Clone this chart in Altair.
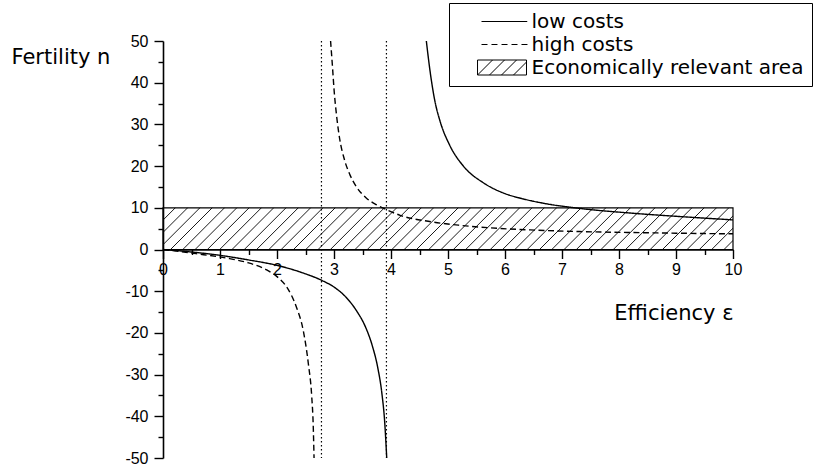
import altair as alt
import pandas as pd

# Fertility n as a function of efficiency ε, read branch by branch
low_lower_eps = [0.0, 0.5, 1.0, 1.5, 2.0, 2.45, 2.8, 3.0, 3.2, 3.4, 3.55, 3.67, 3.77, 3.84, 3.89, 3.925]
low_lower_n = [0.0, -0.6, -1.4, -2.5, -3.8, -5.6, -7.5, -9.0, -11.3, -14.8, -18.5, -23.0, -28.5, -34.5, -41.5, -50.0]

low_upper_eps = [4.62, 4.68, 4.77, 4.86, 5.03, 5.27, 5.62, 6.0, 6.3, 6.67, 7.25, 8.19, 9.07, 10.0]
low_upper_n = [50.0, 43.3, 35.6, 30.8, 25.0, 20.0, 16.0, 13.4, 12.2, 11.1, 9.95, 8.75, 7.9, 7.1]

high_lower_eps = [0.0, 0.58, 1.17, 1.5, 1.82, 2.0, 2.17, 2.34, 2.46, 2.55, 2.61, 2.635, 2.65]
high_lower_n = [0.0, -1.0, -2.2, -3.2, -4.9, -6.5, -9.0, -13.8, -19.4, -27.4, -35.4, -42.0, -50.0]

high_upper_eps = [2.94, 2.976, 3.0, 3.046, 3.10, 3.18, 3.28, 3.40, 3.57, 3.75, 3.89, 4.16, 4.68, 5.21, 5.73, 6.44, 7.31, 8.19, 9.07, 10.0]
high_upper_n = [50.0, 43.3, 38.5, 32.0, 26.5, 21.7, 17.9, 14.9, 12.3, 10.7, 9.75, 8.2, 6.7, 5.8, 5.2, 4.7, 4.3, 4.08, 3.9, 3.76]

# vertical reference lines (ε)
reference_eps = [2.78, 3.92]

# economically relevant area
area_eps = [0.0, 10.0]
area_n = [0.0, 10.0]

# axis ticks
x_major = list(range(0, 11))
x_minor = [i + 0.5 for i in range(10)]
y_major = list(range(-50, 51, 10))
y_minor = list(range(-45, 50, 10))

series_names = ["low costs", "high costs", "Economically relevant area"]

W, H = 570, 417
X_DOMAIN = [0, 10]
Y_DOMAIN = [-50, 50]

LABEL_FONT = "Liberation Sans"
TEXT_FONT = "DejaVu Sans"


def branch(eps, n, series, part):
    return pd.DataFrame({"eps": eps, "n": n, "series": series, "branch": f"{series} {part}"})


curves = pd.concat([
    branch(low_lower_eps, low_lower_n, "low costs", "lower"),
    branch(low_upper_eps, low_upper_n, "low costs", "upper"),
    branch(high_lower_eps, high_lower_n, "high costs", "lower"),
    branch(high_upper_eps, high_upper_n, "high costs", "upper"),
], ignore_index=True)

area = pd.DataFrame({"e0": [area_eps[0]], "e1": [area_eps[1]],
                     "n0": [area_n[0]], "n1": [area_n[1]]})

# 45° hatching for the area, spaced in pixels and converted to data units
hatch_gap_px = 12.3
px_per_x = W / (X_DOMAIN[1] - X_DOMAIN[0])
px_per_y = H / (Y_DOMAIN[1] - Y_DOMAIN[0])
rise = area_n[1] - area_n[0]
run = rise * px_per_y / px_per_x
gap = hatch_gap_px / px_per_x
starts = []
s = area_eps[0] - run
while s < area_eps[1]:
    starts.append(s)
    s += gap
hatch = pd.DataFrame({"x0": starts, "x1": [v + run for v in starts],
                      "y0": area_n[0], "y1": area_n[1]})

refs = pd.DataFrame({"eps": reference_eps})
legend_rows = pd.DataFrame({"series": series_names, "eps": 0.0, "n": 0.0})

x_scale = alt.Scale(domain=X_DOMAIN, nice=False, zero=False)
y_scale = alt.Scale(domain=Y_DOMAIN, nice=False, zero=False)

x_axis = alt.Axis(
    values=x_major, labelExpr="toString(datum.value)",
    orient="bottom", offset=-(H / 2), grid=False,
    domainColor="black", domainWidth=1.6,
    tickColor="black", tickWidth=1.4, tickSize=9,
    labelFont=LABEL_FONT, labelFontSize=16, labelColor="black", labelPadding=3,
    labelFlush=False, labelOverlap=False,
    title="Efficiency ε", titleFont=TEXT_FONT, titleFontSize=21, titleFontWeight="normal",
    titleColor="black", titleX=W, titleY=70, titleAlign="right", titleBaseline="alphabetic",
)
y_axis = alt.Axis(
    values=y_major, labelExpr="toString(datum.value)",
    orient="left", grid=False,
    domainColor="black", domainWidth=1.6,
    tickColor="black", tickWidth=1.4, tickSize=9,
    labelFont=LABEL_FONT, labelFontSize=16, labelColor="black", labelPadding=6,
    labelFlush=False, labelOverlap=False,
    title="Fertility n", titleFont=TEXT_FONT, titleFontSize=21, titleFontWeight="normal",
    titleColor="black", titleAngle=0, titleX=-152, titleY=22, titleAlign="left",
    titleBaseline="alphabetic",
)
x_minor_axis = alt.Axis(
    values=x_minor, labels=False, domain=False, grid=False, title=None,
    orient="bottom", offset=-(H / 2), tickColor="black", tickWidth=1.4, tickSize=5,
)
y_minor_axis = alt.Axis(
    values=y_minor, labels=False, domain=False, grid=False, title=None,
    orient="left", tickColor="black", tickWidth=1.4, tickSize=5,
)

hatch_layer = alt.Chart(hatch).mark_rule(color="black", strokeWidth=0.9, clip=True).encode(
    x=alt.X("x0:Q", scale=x_scale, axis=x_axis),
    x2="x1:Q",
    y=alt.Y("y0:Q", scale=y_scale, axis=y_axis),
    y2="y1:Q",
)

area_layer = alt.Chart(area).mark_rect(fill="white", fillOpacity=0, stroke="black", strokeWidth=1.2).encode(
    x=alt.X("e0:Q", scale=x_scale, axis=x_minor_axis), x2="e1:Q",
    y=alt.Y("n0:Q", scale=y_scale, axis=y_minor_axis), y2="n1:Q",
)

ref_layer = alt.Chart(refs).mark_rule(color="black", strokeWidth=1.2, strokeDash=[1.5, 2.5]).encode(
    x=alt.X("eps:Q", scale=x_scale, axis=None),
)

curve_layer = alt.Chart(curves).mark_line(color="black", strokeWidth=1.4, clip=True,
                                          interpolate="monotone").encode(
    x=alt.X("eps:Q", scale=x_scale, axis=None),
    y=alt.Y("n:Q", scale=y_scale, axis=None),
    strokeDash=alt.StrokeDash("series:N", scale=alt.Scale(domain=["low costs", "high costs"],
                                                          range=[[1, 0], [6, 3.5]]), legend=None),
    detail="branch:N",
    order="eps:Q",
)

legend_paths = [
    "M-2.8,0H3.3",
    "M-2.8,0H-2M-1.47,0H-0.67M-0.13,0H0.67M1.2,0H2M2.53,0H3.33",
    "M-3.33,-1H3.2V1H-3.33Z M-3.33,1L-1.33,-1 M-1.73,1L0.27,-1 M-0.13,1L1.87,-1 M1.47,1L3.2,-0.73",
]

legend_layer = alt.Chart(legend_rows).mark_point(opacity=0, filled=False, color="black", size=225).encode(
    x=alt.X("eps:Q", scale=x_scale, axis=None),
    y=alt.Y("n:Q", scale=y_scale, axis=None),
    shape=alt.Shape(
        "series:N",
        scale=alt.Scale(domain=series_names, range=legend_paths),
        legend=alt.Legend(
            title=None, orient="none", legendX=286, legendY=-38, direction="vertical",
            padding=8.5, strokeColor="black", fillColor="white", cornerRadius=0,
            symbolSize=225, symbolStrokeWidth=1, symbolStrokeColor="black",
            symbolFillColor="transparent", symbolOpacity=1,
            symbolOffset=35, labelOffset=19, labelFont=TEXT_FONT, labelFontSize=20,
            labelColor="black", rowPadding=3, labelLimit=400,
        ),
    ),
)

chart = alt.layer(hatch_layer, area_layer, ref_layer, curve_layer, legend_layer).resolve_axis(
    x="independent", y="independent"
).properties(
    width=W, height=H,
    autosize=alt.AutoSizeParams(type="none"),
    padding={"left": 163, "top": 41, "right": 87, "bottom": 12},
    background="white",
).configure_view(strokeWidth=0)

chart.save("out.html", embed_options={"renderer": "svg", "actions": False})
